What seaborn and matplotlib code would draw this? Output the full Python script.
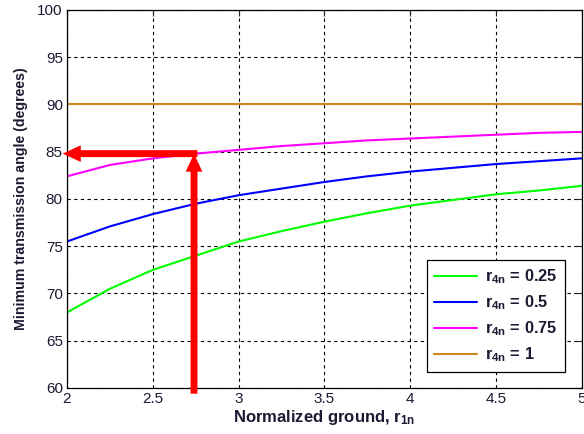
import numpy as np
import pandas as pd
import matplotlib
matplotlib.use('Agg')
import matplotlib.pyplot as plt
import seaborn as sns

# normalized ground link length
r1n = [2.0, 2.25, 2.5, 2.75, 3.0, 3.25, 3.5, 3.75, 4.0, 4.25, 4.5, 4.75, 5.0]

# minimum transmission angle (deg) for each r4n
angle_025 = [68.0, 70.5, 72.5, 74.0, 75.5, 76.6, 77.6, 78.5, 79.3, 79.9, 80.5, 80.9, 81.4]
angle_050 = [75.5, 77.1, 78.4, 79.5, 80.4, 81.1, 81.8, 82.4, 82.9, 83.3, 83.7, 84.0, 84.3]
angle_075 = [82.4, 83.6, 84.3, 84.8, 85.2, 85.6, 85.9, 86.2, 86.4, 86.6, 86.8, 87.0, 87.1]
angle_100 = [90.0] * 13

labels = [r'$\mathbf{r_{4n}}$ = 0.25', r'$\mathbf{r_{4n}}$ = 0.5',
          r'$\mathbf{r_{4n}}$ = 0.75', r'$\mathbf{r_{4n}}$ = 1']
colors = ['#00FF00', '#0000FF', '#FF00FF', '#CC8A1E']

# design point
pick_x = 2.74
pick_y = 84.8

df = pd.concat([
    pd.DataFrame({'r1n': r1n, 'angle': a, 'series': lab})
    for a, lab in zip([angle_025, angle_050, angle_075, angle_100], labels)
])

sns.set_style('white')
plt.rcParams['font.family'] = ['Liberation Sans', 'DejaVu Sans']
plt.rcParams['mathtext.fontset'] = 'custom'
plt.rcParams['mathtext.rm'] = 'Liberation Sans'
plt.rcParams['mathtext.bf'] = 'Liberation Sans:bold'

fig = plt.figure(figsize=(5.84, 4.34), dpi=100)
ax = fig.add_axes([0.1147, 0.106, 0.8819, 0.871])

sns.lineplot(data=df, x='r1n', y='angle', hue='series', palette=colors,
             linewidth=1.5, ax=ax)

ax.set_xlim(2, 5)
ax.set_ylim(60, 100)
ax.set_xticks([2, 2.5, 3, 3.5, 4, 4.5, 5])
ax.set_xticklabels(['2', '2.5', '3', '3.5', '4', '4.5', '5'])
ax.set_yticks(range(60, 101, 5))
ax.grid(True, color='black', linestyle=(0, (3, 3)), linewidth=0.8)
ax.tick_params(direction='in', length=4, top=True, right=True,
               labelsize=11, labelcolor='#1a1a33', pad=3)
for s in ax.spines.values():
    s.set_color('black')
    s.set_linewidth(0.9)

ax.set_xlabel(r'Normalized ground, $\mathbf{r_{1n}}$', fontsize=12,
              fontweight='bold', color='#1a1a33', labelpad=1)
ax.set_ylabel('Minimum transmission angle (degrees)', fontsize=10.2,
              fontweight='bold', color='#1a1a33', labelpad=7)

leg = ax.legend(loc='lower right', bbox_to_anchor=(0.982, 0.021), fontsize=11.8,
                frameon=True, fancybox=False, framealpha=1, edgecolor='black',
                handlelength=2.6, handletextpad=0.5, labelspacing=0.45,
                borderpad=0.45, title=None)
leg.get_frame().set_linewidth(0.9)
for t in leg.get_texts():
    t.set_fontweight('bold')
    t.set_color('#1a1a33')

arrow = dict(arrowstyle='simple,head_length=13,head_width=12,tail_width=5',
             color='#FF0000', mutation_scale=1, shrinkA=0, shrinkB=0, lw=0)
ax.annotate('', xy=(pick_x, pick_y), xytext=(pick_x, 59.4),
            arrowprops=arrow, annotation_clip=False)
ax.annotate('', xy=(1.975, pick_y), xytext=(pick_x + 0.02, pick_y),
            arrowprops=arrow, annotation_clip=False)

fig.savefig('out.png', dpi=100)
